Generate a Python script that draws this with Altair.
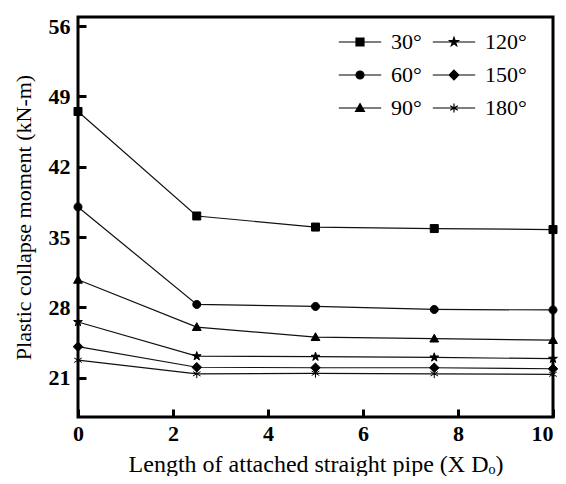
import math
import altair as alt
import pandas as pd

lengths = [0, 2.5, 5, 7.5, 10]
series = ["30°", "60°", "90°", "120°", "150°", "180°"]
m30 = [47.5, 37.1, 36.0, 35.85, 35.75]
m60 = [38.0, 28.3, 28.1, 27.8, 27.75]
m90 = [30.75, 26.05, 25.05, 24.9, 24.75]
m120 = [26.55, 23.15, 23.1, 23.03, 22.9]
m150 = [24.1, 22.05, 22.0, 22.0, 21.9]
m180 = [22.75, 21.4, 21.45, 21.4, 21.35]
all_vals = [m30, m60, m90, m120, m150, m180]

rows = []
for s, vals in zip(series, all_vals):
    for x, v in zip(lengths, vals):
        rows.append({"L": x, "M": v, "angle": s})
df = pd.DataFrame(rows)

# marker paths in unit coordinates
sq = "M-1,-1H1V1H-1Z"
circ = "M-1,0A1,1 0 1,0 1,0A1,1 0 1,0 -1,0Z"
tri = "M0,-1.1L1.1,0.85H-1.1Z"
pts = []
for k in range(10):
    a = -math.pi / 2 + k * math.pi / 5
    r = 1.15 if k % 2 == 0 else 0.45
    pts.append(f"{r*math.cos(a):.3f},{r*math.sin(a):.3f}")
star = "M" + "L".join(pts) + "Z"
diam = "M0,-1.2L1.2,0L0,1.2L-1.2,0Z"
ast = "M0,-1.1V1.1M-0.95,-0.55L0.95,0.55M-0.95,0.55L0.95,-0.55"
markers = [sq, circ, tri, star, diam, ast]
line_seg = "M-5.3,0H5.3"
legend_shapes = [line_seg + m for m in markers]

xsc = alt.Scale(domain=[0, 10], nice=False, zero=False)
ysc = alt.Scale(domain=[17.1, 56.9], nice=False, zero=False)

font = "Liberation Serif"

xax = alt.Axis(values=[0, 2, 4, 6, 8, 10], format="d", domain=False, grid=False,
               tickSize=8, offset=-8, tickWidth=3, tickColor="black",
               labelFlush=False,
               labelAlign={"condition": {"test": "datum.value === 10", "value": "right"},
                           "value": "center"},
               labelFont=font, labelFontWeight="bold", labelFontSize=22, labelColor="black",
               labelPadding=6,
               title="Length of attached straight pipe (X Dₒ)", titleFont=font,
               titleFontWeight="normal", titleFontSize=24, titleColor="black", titlePadding=8)
yax = alt.Axis(values=[21, 28, 35, 42, 49, 56], domain=False, grid=False,
               tickSize=8, offset=-8, tickWidth=3, tickColor="black",
               labelFont=font, labelFontWeight="bold", labelFontSize=22, labelColor="black",
               labelPadding=8,
               title="Plastic collapse moment (kN-m)", titleFont=font,
               titleFontWeight="normal", titleFontSize=22, titleColor="black", titlePadding=13)

base = alt.Chart(df)

lines = base.mark_line(color="#111111", strokeWidth=1.2).encode(
    x=alt.X("L:Q", scale=xsc, axis=xax),
    y=alt.Y("M:Q", scale=ysc, axis=yax),
    detail="angle:N",
)

points = base.mark_point(filled=True, fill="black", stroke="black", strokeWidth=1,
                         opacity=1, size=64).encode(
    x=alt.X("L:Q", scale=xsc),
    y=alt.Y("M:Q", scale=ysc),
    shape=alt.Shape("angle:N", scale=alt.Scale(domain=series, range=markers), legend=None),
)

leg = base.transform_filter("false").mark_point(
    filled=False, fill="black", stroke="black", strokeWidth=1.2, opacity=1, size=64
).encode(
    x=alt.X("L:Q", scale=xsc),
    y=alt.Y("M:Q", scale=ysc),
    shape=alt.Shape("angle:N", sort=series,
                    scale=alt.Scale(domain=series, range=legend_shapes),
                    legend=alt.Legend(title=None, orient="none", legendX=271, legendY=14,
                                      columns=2, direction="vertical",
                                      labelFont=font, labelFontSize=22, labelColor="black",
                                      symbolSize=64, symbolStrokeWidth=1.2,
                                      symbolOpacity=1,
                                      labelOffset=20, rowPadding=11, columnPadding=8)),
)

chart = alt.layer(lines, points, leg).resolve_scale(shape="independent").properties(
    width=550, height=468, background="white",
    autosize=alt.AutoSizeParams(type="fit", contains="padding"),
    padding={"left": 4, "top": 8, "right": -2, "bottom": 0},
).configure_view(stroke="black", strokeWidth=3)

chart.save("out.html", embed_options={"renderer": "svg", "actions": False})
